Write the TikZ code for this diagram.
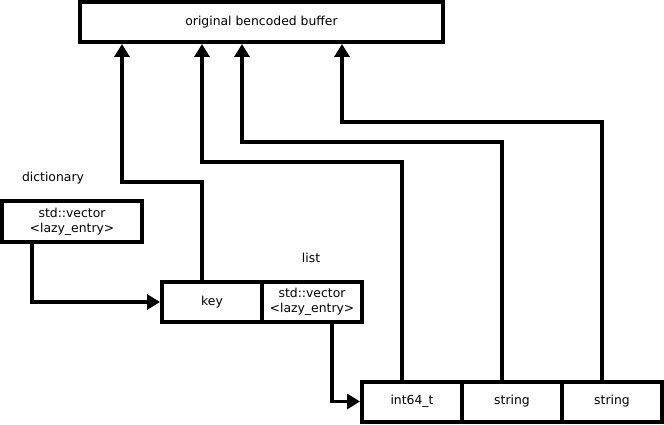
\documentclass[tikz,border=0pt]{standalone}
\usepackage{fontspec}
\setmainfont{DejaVu Sans}
\usetikzlibrary{arrows.meta}
\begin{document}
\begin{tikzpicture}[x=1pt,y=1pt,
  box/.style={draw=black,line width=4pt,fill=white,minimum height=40pt,inner sep=0pt,align=center,font=\fontsize{12.4}{15}\selectfont},
  lbl/.style={inner sep=0pt,font=\fontsize{12.4}{15}\selectfont},
  conn/.style={draw=black,line width=3.3pt,-{Triangle[width=15pt,length=13pt]}}]
\useasboundingbox (0,0) rectangle (664,424);
\node[box,minimum width=363pt] (buf) at (261.5,402) {original bencoded buffer};
\node[box,minimum width=140pt,minimum height=41pt] (dict) at (72,202.5) {std::vector\\<lazy\_entry>};
\node[box,minimum width=100pt] (key) at (212,122) {key};
\node[box,minimum width=100pt] (lvec) at (312,122) {std::vector\\<lazy\_entry>};
\node[box,minimum width=100pt] (int) at (412,22.5) {int64\_t};
\node[box,minimum width=100pt] (s1) at (512,22.5) {string};
\node[box,minimum width=100pt] (s2) at (612,22.5) {string};
\node[lbl] (dlab) at (53,246) {dictionary};
\node[lbl] (llab) at (311,166) {list};
\draw[conn] ([xshift=-40pt]dict.south) |- (key.west);
\draw[conn] ([xshift=20pt]lvec.south) |- (int.west);
\draw[conn] ([xshift=-10pt]key.north) |- (122,242) -- ([xshift=-139.5pt]buf.south);
\draw[conn] ([xshift=-10pt]int.north) |- (202,262) -- ([xshift=-59.5pt]buf.south);
\draw[conn] ([xshift=-10pt]s1.north) |- (242,282) -- ([xshift=-19.5pt]buf.south);
\draw[conn] ([xshift=-10pt]s2.north) |- (342,302) -- ([xshift=80.5pt]buf.south);
\end{tikzpicture}
\end{document}
